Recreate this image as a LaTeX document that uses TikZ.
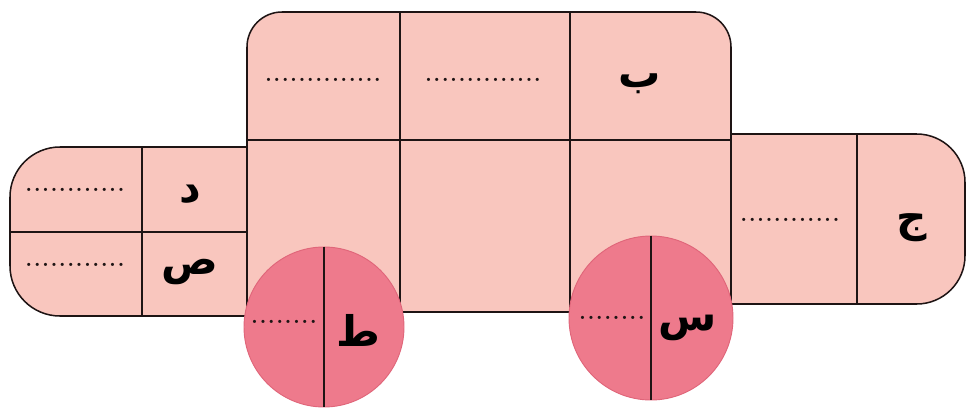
\documentclass[tikz,border=0pt]{standalone}
\usepackage{fontspec}
\newfontfamily\arabicfont[Script=Arabic]{DejaVu Sans}
\TeXXeTstate=1
\definecolor{bodypink}{HTML}{F9C6BE}
\definecolor{wheelpink}{HTML}{EE7A8C}
\definecolor{wheeledge}{HTML}{E0667A}
\definecolor{inkline}{HTML}{1E1414}
\newcommand\dotrow[1]{\foreach \i in {1,...,#1}{.\hspace{1.2pt}}}
\tikzset{
  part/.style={fill=bodypink, draw=inkline, line width=1.3pt, line join=round},
  divider/.style={draw=inkline, line width=1.2pt},
  wheel/.style={fill=wheelpink, draw=wheeledge, line width=0.8pt},
  letter/.style={font=\arabicfont\bfseries\fontsize{36}{40}\selectfont, text=black, inner sep=0pt},
  dotsnode/.style={font=\bfseries\fontsize{19}{20}\selectfont, text=inkline, inner sep=0pt}
}
\begin{document}
\begin{tikzpicture}[x=0.03cm,y=-0.03cm]
\useasboundingbox[fill=white] (0,0) rectangle (971,412);
% cabin
\draw[part] (247,140) [rounded corners=1.05cm] -- (247,12) -- (731,12) [sharp corners] -- (731,140) -- cycle;
% lower body
\draw[part] (247,140) rectangle (731,312);
% left part
\draw[part] (247,147) [rounded corners=1.5cm] -- (10,147) -- (10,316) [sharp corners] -- (247,316) -- cycle;
% right part
\draw[part] (731,134) [rounded corners=1.45cm] -- (965,134) -- (965,304) [sharp corners] -- (731,304) -- cycle;
% dividers
\draw[divider] (400,12) -- (400,312);
\draw[divider] (570,12) -- (570,312);
\draw[divider] (142,147) -- (142,316);
\draw[divider] (10,232) -- (247,232);
\draw[divider] (857,134) -- (857,304);
% wheels
\node[wheel, circle, minimum size=160*0.03cm, inner sep=0pt] (wl) at (324,327) {};
\node[wheel, circle, minimum size=164*0.03cm, inner sep=0pt] (wr) at (651,318) {};
\draw[divider] (wl.north) -- (wl.south);
\draw[divider] (wr.north) -- (wr.south);
% letters
\node[letter] (b) at (640,84) {\beginR ب\endR};
\node[letter] (d) at (190,194) {\beginR د\endR};
\node[letter] (s) at (190,272) {\beginR ص\endR};
\node[letter] (j) at (912,228) {\beginR ج\endR};
\node[letter] (t) at (358,330) {\beginR ط\endR};
\node[letter] (sin) at (688,328) {\beginR س\endR};
% dotted blanks
\node[dotsnode] (d1) at (323,80) {\dotrow{14}};
\node[dotsnode] (d2) at (483,80) {\dotrow{14}};
\node[dotsnode] (d3) at (75,190) {\dotrow{12}};
\node[dotsnode] (d4) at (75,265) {\dotrow{12}};
\node[dotsnode] (d5) at (790,220) {\dotrow{12}};
\node[dotsnode] (d6) at (284,322) {\dotrow{8}};
\node[dotsnode] (d7) at (612,318) {\dotrow{8}};
\end{tikzpicture}
\end{document}
